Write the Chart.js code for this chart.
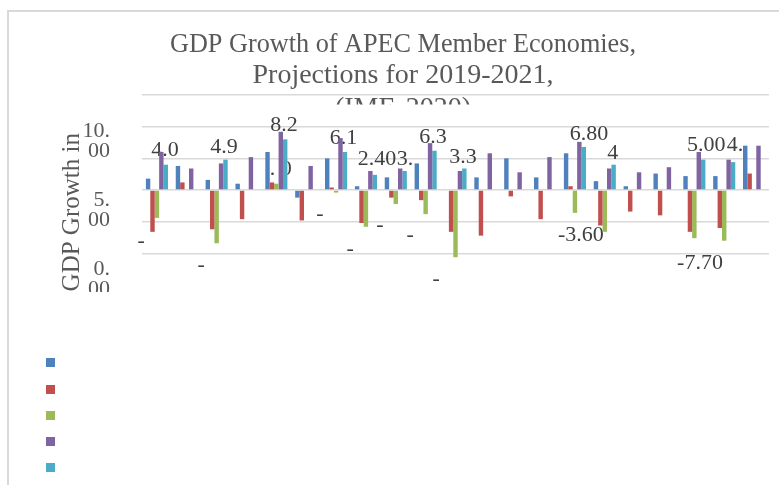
<!DOCTYPE html>
<html>
<head>
<meta charset="utf-8">
<script src="https://cdn.jsdelivr.net/npm/chart.js@4.4.1/dist/chart.umd.min.js"></script>
<style>
  html, body { margin: 0; padding: 0; background: #fff; overflow: hidden; }
  #frame { position: absolute; left: 7px; top: 10px; width: 900px; height: 600px; border: 2px solid #d9d9d9; }
  #wrap { position: absolute; left: 0; top: 0; width: 779px; height: 485px; }
</style>
</head>
<body>
<div id="frame"></div>
<div id="wrap"><canvas id="gdpChart"></canvas></div>
<script>
// APEC economies (category axis, labels not shown in the picture)
const economies = ['Australia', 'Brunei Darussalam', 'Canada', 'Chile', 'China',
  'Hong Kong, China', 'Indonesia', 'Japan', 'Korea', 'Malaysia', 'Mexico',
  'New Zealand', 'Papua New Guinea', 'Peru', 'Philippines', 'Russia',
  'Singapore', 'Chinese Taipei', 'Thailand', 'United States', 'Viet Nam'];

const seriesNames = ['2019', '2020 (Apr 2020)', '2020 (Jun 2020)', '2021 (Apr 2020)', '2021 (Jun 2020)'];
const seriesColors = ['#4f81bd', '#c0504d', '#9bbb59', '#8064a2', '#4bacc6'];

const growth2019 = [0.9, 1.9, 0.8, 0.5, 3.0, -0.6, 2.5, 0.3, 1.0, 2.1, 0, 1.0, 2.5, 1.0, 2.9, 0.7, 0.3, 1.3, 1.1, 1.1, 3.5];
const growth2020Apr = [-3.3, 0.6, -3.1, -2.3, 0.6, -2.4, 0.2, -2.6, -0.6, -0.8, -3.3, -3.6, -0.5, -2.3, 0.3, -2.8, -1.7, -2.0, -3.3, -3.0, 1.3];
const growth2020Jun = [-2.2, null, -4.2, null, 0.5, null, -0.2, -2.9, -1.1, -1.9, -5.3, null, null, null, -1.8, -3.3, null, null, -3.8, -4.0, null];
const growth2021Apr = [3.0, 1.7, 2.1, 2.6, 4.6, 1.9, 4.1, 1.5, 1.7, 3.7, 1.5, 2.9, 1.4, 2.6, 3.8, 1.7, 1.4, 1.8, 3.0, 2.4, 3.5];
const growth2021Jun = [2.0, null, 2.4, null, 4.0, null, 3.0, 1.2, 1.5, 3.1, 1.7, null, null, null, 3.4, 2.0, null, null, 2.4, 2.2, null];

// value axis: gridlines and the (misplaced) tick labels of the original
const gridValues = [-5, -2.5, 0, 2.5, 5, 7.5];
const tickLabelValues = [0, 5, 10];

// stray data labels as they appear in the picture: text, category position, value
const labelTexts = ['4.0', '4.9', '8.2', '. 0', '6.1', '2.40', '3.', '6.3', '3.3', '6.80', '4', '5.00', '4.', '-3.60', '-7.70',
  '-', '-', '-', '-', '-', '-', '-'];
const labelCats = [0.27, 2.25, 4.26, 4.15, 6.25, 7.37, 8.31, 9.25, 10.25, 14.47, 15.27, 18.40, 19.36, 14.20, 18.19,
  -0.53, 1.48, 5.46, 6.47, 7.47, 8.48, 9.35];
const labelValues = [3.15, 3.39, 5.13, 1.66, 4.10, 2.44, 2.44, 4.18, 2.60, 4.42, 2.92, 3.51, 3.51, -3.55, -5.76,
  -4.02, -5.91, -1.89, -4.65, -2.76, -3.55, -7.02];

const titleLines = ['GDP Growth of APEC Member Economies,', 'Projections for 2019-2021,', '(IMF, 2020)'];

const SERIF = "'Liberation Serif', 'DejaVu Serif', serif";
Chart.defaults.font.family = SERIF;
Chart.defaults.color = '#595959';
Chart.defaults.animation = false;

// title drawn underneath everything, third line cut off like the original
const titlePlugin = {
  id: 'clippedTitle',
  beforeDraw(chart) {
    const ctx = chart.ctx;
    const baselines = [52, 83, 116];
    const widths = [466, 310, 140];
    ctx.save();
    ctx.font = '28px ' + SERIF;
    ctx.fillStyle = '#595959';
    ctx.textAlign = 'center';
    ctx.textBaseline = 'alphabetic';
    titleLines.forEach((t, i) => {
      ctx.save();
      if (i === 2) {
        ctx.beginPath();
        ctx.rect(0, 0, chart.width, 104.5);
        ctx.clip();
      }
      ctx.fillText(t, 403, baselines[i], widths[i]);
      ctx.restore();
    });
    ctx.restore();
  },
};

// data labels sit behind the bars
const strayLabels = {
  id: 'strayLabels',
  beforeDatasetsDraw(chart) {
    const ctx = chart.ctx;
    const x = chart.scales.x, y = chart.scales.y;
    ctx.save();
    ctx.font = '22px ' + SERIF;
    ctx.fillStyle = '#404040';
    ctx.textAlign = 'center';
    ctx.textBaseline = 'middle';
    labelTexts.forEach((t, i) => {
      ctx.fillText(t, x.getPixelForValue(labelCats[i]), y.getPixelForValue(labelValues[i]));
    });
    ctx.restore();
  },
};

// white band hiding the lower part of the plot, then swatch-only legend
const coverAndLegend = {
  id: 'coverAndLegend',
  afterDraw(chart) {
    const ctx = chart.ctx;
    ctx.save();
    ctx.fillStyle = '#fff';
    ctx.fillRect(12, 292, chart.width - 12, 55);
    const tops = [358, 385, 411, 437, 463];
    chart.data.datasets.forEach((ds, i) => {
      ctx.fillStyle = ds.backgroundColor;
      ctx.fillRect(46, tops[i], 9, 9);
    });
    ctx.restore();
  },
};

const seriesData = [growth2019, growth2020Apr, growth2020Jun, growth2021Apr, growth2021Jun];

new Chart(document.getElementById('gdpChart'), {
  type: 'bar',
  data: {
    labels: economies,
    datasets: seriesData.map((d, i) => ({
      label: seriesNames[i],
      data: d,
      backgroundColor: seriesColors[i],
      borderWidth: 0,
      categoryPercentage: 0.74,
      barPercentage: 1.0,
      clip: false,
    })),
  },
  options: {
    responsive: true,
    maintainAspectRatio: false,
    layout: { padding: { left: 53, right: 10, top: 95, bottom: 193.6 } },
    plugins: { legend: { display: false }, tooltip: { enabled: false } },
    scales: {
      x: { display: false },
      y: {
        position: 'left',
        weight: 0,
        min: -8,
        max: 7.5,
        afterBuildTicks: (s) => { s.ticks = gridValues.map((v) => ({ value: v })); },
        afterFit: (s) => { s.width = 29; },
        ticks: { display: false },
        border: { display: false },
        grid: { color: '#d9d9d9', lineWidth: 1.5, drawTicks: false },
      },
      yLabels: {
        position: 'left',
        weight: 10,
        min: -0.9,
        max: 13.33,
        afterBuildTicks: (s) => { s.ticks = tickLabelValues.map((v) => ({ value: v })); },
        afterFit: (s) => { s.width = 60; },
        border: { display: false },
        grid: { display: false, drawTicks: false },
        ticks: {
          padding: 3,
          color: '#595959',
          font: { size: 22, lineHeight: 0.9 },
          callback: (v) => {
            const s = Number(v).toFixed(2);
            const p = s.indexOf('.') + 1;
            return [s.slice(0, p), s.slice(p)];
          },
        },
        title: {
          display: true,
          text: 'GDP Growth in',
          align: 'start',
          color: '#595959',
          font: { size: 25 },
          padding: { top: 4, bottom: 0 },
        },
      },
    },
  },
  plugins: [titlePlugin, strayLabels, coverAndLegend],
});
</script>
</body>
</html>
